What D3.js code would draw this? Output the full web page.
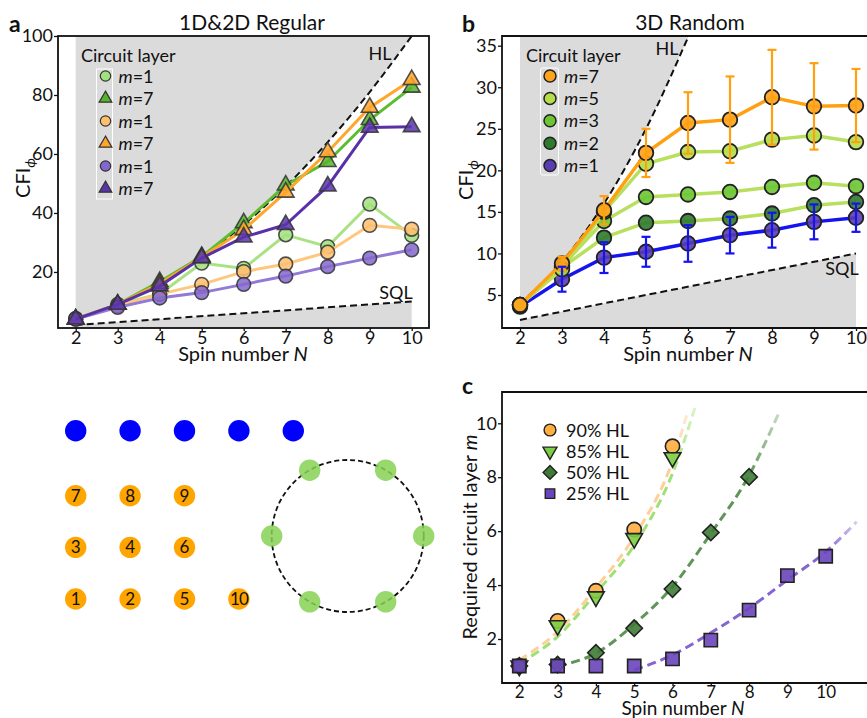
<!DOCTYPE html>
<html><head><meta charset="utf-8">
<script src="https://cdn.jsdelivr.net/npm/d3@7"></script>
<style>body{margin:0;background:#fff}svg{display:block}text{font-family:Lato,"Open Sans",sans-serif;fill:#111}</style>
</head><body><svg id="c" width="867" height="718"></svg>
<script>
// ---------- DATA ----------
const spinN = [2,3,4,5,6,7,8,9,10];
const xTicks = [2,3,4,5,6,7,8,9,10];
// Panel a (1D&2D Regular)
const aGreenM1  = [4.2, 9.0, 12.5, 23.0, 21.2, 32.6, 28.6, 43.0, 32.4];
const aGreenM7  = [4.0, 9.0, 16.7, 25.2, 36.6, 49.4, 57.4, 71.6, 82.6];
const aOrangeM1 = [4.0, 8.5, 12.5, 15.8, 20.1, 22.7, 26.7, 35.8, 34.5];
const aOrangeM7 = [4.0, 9.0, 16.0, 25.0, 34.3, 47.0, 60.7, 75.8, 85.2];
const aPurpleM1 = [4.0, 8.0, 11.2, 13.0, 15.8, 18.6, 21.8, 24.7, 27.5];
const aPurpleM7 = [4.0, 9.0, 15.2, 24.7, 31.8, 36.0, 49.1, 69.0, 69.2];
const aYTicks = [20,40,60,80,100];
const hlN = [2,3,4,5,6,7,8,9,10];
const hlVal = [4,9,16,25,36,49,64,81,100];
const sqlN = [2,10];
const sqlVal = [2,10];
// Panel b (3D Random)
const bM7 = [3.8, 8.8, 15.2, 22.1, 25.7, 26.1, 28.8, 27.7, 27.8];
const bM7Err = [0, 0.8, 1.7, 2.9, 3.7, 5.2, 5.7, 5.2, 4.4];
const bM5 = [3.8, 8.1, 15.0, 20.8, 22.2, 22.3, 23.7, 24.2, 23.4];
const bM3 = [3.8, 8.5, 13.9, 16.8, 17.1, 17.4, 18.0, 18.5, 18.1];
const bM2 = [3.8, 8.3, 11.9, 13.7, 13.9, 14.2, 14.8, 15.8, 16.2];
const bM1 = [3.6, 6.9, 9.5, 10.2, 11.2, 12.2, 12.8, 13.8, 14.3];
const bM1Err = [0, 1.5, 1.85, 1.8, 2.2, 2.2, 2.1, 2.1, 1.7];
const bYTicks = [5,10,15,20,25,30,35];
const bHlN = [2,3,4,5,6];
const bHlVal = [4,9,16,25,36];
// Panel c (required circuit layer)
const c90N = [2,3,4,5,6];        const c90M = [1.0, 2.67, 3.79, 6.06, 9.15];
const c85N = [2,3,4,5,6];        const c85M = [1.0, 2.5, 3.57, 5.73, 8.73];
const c50N = [2,3,4,5,6,7,8];    const c50M = [1.0, 1.05, 1.49, 2.4, 3.85, 5.95, 8.01];
const c25N = [2,3,4,5,6,7,8,9,10]; const c25M = [1.0, 1.0, 1.0, 1.0, 1.26, 1.96, 3.07, 4.35, 5.07];
const fit90N = [2, 3, 4, 5, 6, 6.41];        const fit90M = [1.22, 2.27, 3.9, 5.8, 8.6, 10.48];
const fit85N = [2, 3, 4, 5, 6, 6.61];        const fit85M = [1.1, 2.09, 3.7, 5.48, 8.14, 10.67];
const fit50N = [3, 4, 5, 6, 7, 8, 8.79];     const fit50M = [1.0, 1.47, 2.55, 3.94, 5.91, 8.07, 10.42];
const fit25N = [5, 6, 7, 8, 9, 10, 10.81];   const fit25M = [0.85, 1.41, 2.23, 3.14, 4.19, 5.23, 6.35];
const cYTicks = [2,4,6,8,10];
// Lattice illustration
const chainCols = [0,1,2,3,4];
const gridLabels = ["7","8","9","3","4","6","1","2","5","10"];
const gridCols = [0,1,2,0,1,2,0,1,2,3];
const gridRows = [0,0,0,1,1,1,2,2,2,2];
const ringAngles = [0,60,120,180,240,300];

// ---------- DRAW ----------
const svg = d3.select("#c");
const defs = svg.append("defs");
const GRAY = "#dcdbdc";
const FONT = "Lato";

function clip(id, x0, y0, x1, y1) {
  defs.append("clipPath").attr("id", id).append("rect")
    .attr("x", x0).attr("y", y0).attr("width", x1 - x0).attr("height", y1 - y0);
  return "url(#" + id + ")";
}
function axes(g, x, y, yTicks, frame, fs) {
  const ya = g.append("g").attr("transform", `translate(${frame.x0},0)`)
    .call(d3.axisLeft(y).tickValues(yTicks).tickSize(4).tickPadding(1));
  const xa = g.append("g").attr("transform", `translate(0,${frame.y1})`)
    .call(d3.axisBottom(x).tickValues(xTicks).tickSize(3).tickPadding(0));
  [ya, xa].forEach(a => {
    a.select(".domain").remove();
    a.selectAll("line").attr("stroke", "#111").attr("stroke-width", 1.3);
    a.selectAll("text").attr("font-size", 18).attr("fill", "#111").attr("font-family", FONT);
  });
  if (fs) xa.selectAll("text").attr("font-size", fs);
}
function frameBox(g, f) {
  g.append("rect").attr("x", f.x0).attr("y", f.y0)
    .attr("width", f.x1 - f.x0).attr("height", f.y1 - f.y0)
    .attr("fill", "none").attr("stroke", "#111").attr("stroke-width", 1.8);
}
function spinLabel(g, cx, yb, fs) {
  const t = g.append("text").attr("x", cx).attr("y", yb).attr("text-anchor", "middle").attr("font-size", fs || 20);
  t.append("tspan").text("Spin number ");
  t.append("tspan").attr("font-style", "italic").text("N");
}
function cfiLabel(g, cx, cy) {
  const t = g.append("text").attr("transform", `translate(${cx},${cy}) rotate(-90)`)
    .attr("text-anchor", "middle").attr("font-size", 20);
  t.append("tspan").text("CFI");
  t.append("tspan").attr("font-size", 14).attr("font-style", "italic").attr("dy", 5).text("ϕ");
}
function legendItem(g, x, y, sym, fill, label, num) {
  g.append("path").attr("d", sym).attr("transform", `translate(${x},${y})`)
    .attr("fill", fill).attr("stroke", "#333").attr("stroke-width", 1.2);
  const t = g.append("text").attr("x", x + 13).attr("y", y + 6.5).attr("font-size", 18);
  t.append("tspan").attr("font-style", "italic").text(label);
  t.append("tspan").text("=" + num);
}
const circleSym = d3.symbol().type(d3.symbolCircle).size(150)();
const triSym = d3.symbol().type(d3.symbolTriangle).size(120)();
const legCirc = d3.symbol().type(d3.symbolCircle).size(85)();
const legTri = d3.symbol().type(d3.symbolTriangle).size(70)();

// ===== Panel a =====
(function(){
  const f = {x0: 58, x1: 429, y0: 36, y1: 328};
  const x = d3.scaleLinear().domain([2,10]).range([75.7, 411.7]);
  const y = d3.scaleLinear().domain([1,100]).range([328, 36]);
  const g = svg.append("g");
  const cp = clip("clipA", f.x0, f.y0, f.x1, f.y1);
  const pg = g.append("g").attr("clip-path", cp);
  const hlLine = d3.line().x((d,i)=>x(hlN[i])).y(d=>y(d)).curve(d3.curveMonotoneX);
  const hlPath = hlLine(hlVal);
  pg.append("path").attr("d", hlPath + ` L${x(10)},${f.y0} L${x(2)},${f.y0} Z`).attr("fill", GRAY);
  pg.append("path").attr("d", `M${x(sqlN[0])},${y(sqlVal[0])} L${x(sqlN[1])},${y(sqlVal[1])} L${x(10)},${f.y1} L${x(2)},${f.y1} Z`).attr("fill", GRAY);
  pg.append("path").attr("d", hlPath).attr("fill","none").attr("stroke","#111").attr("stroke-width",2).attr("stroke-dasharray","7,4");
  pg.append("path").attr("d", `M${x(sqlN[0])},${y(sqlVal[0])} L${x(sqlN[1])},${y(sqlVal[1])}`).attr("fill","none").attr("stroke","#111").attr("stroke-width",2).attr("stroke-dasharray","7,4");
  g.append("text").attr("x", 380).attr("y", 60).attr("text-anchor","middle").attr("font-size",18).text("HL");
  g.append("text").attr("x", 396).attr("y", 299).attr("text-anchor","middle").attr("font-size",18).text("SQL");
  const series = [
    {v: aGreenM1, line: "#a9e283", mk: "#a2e07f", sym: circleSym},
    {v: aGreenM7, line: "#5dbc2f", mk: "#55b52a", sym: triSym},
    {v: aOrangeM1, line: "#ffc77e", mk: "#ffc06e", sym: circleSym},
    {v: aOrangeM7, line: "#ffa62d", mk: "#ffa52a", sym: triSym},
    {v: aPurpleM1, line: "#9279d6", mk: "#8467cc", sym: circleSym},
    {v: aPurpleM7, line: "#5a30a8", mk: "#5a35aa", sym: triSym},
  ];
  const ln = d3.line().x((d,i)=>x(spinN[i])).y(d=>y(d));
  series.forEach(s => {
    pg.append("path").attr("d", ln(s.v)).attr("fill","none").attr("stroke", s.line).attr("stroke-width", 3);
    pg.selectAll(null).data(s.v).join("path").attr("d", s.sym)
      .attr("transform", (d,i)=>`translate(${x(spinN[i])},${y(d)})`)
      .attr("fill", s.mk).attr("fill-opacity", 0.85).attr("stroke", "#333").attr("stroke-opacity",0.85).attr("stroke-width", 1.6);
  });
  axes(g, x, y, aYTicks, f);
  frameBox(g, f);
  g.append("text").attr("x", 81).attr("y", 62).attr("font-size", 18).text("Circuit layer");
  g.append("rect").attr("x", 96.5).attr("y", 69).attr("width", 16).attr("height", 130).attr("fill","none").attr("stroke","#fff").attr("stroke-width",1);
  const leg = [[legCirc,"#a2e07f"],[legTri,"#55b52a"],[legCirc,"#ffc06e"],[legTri,"#ffa52a"],[legCirc,"#8467cc"],[legTri,"#5a35aa"]];
  const legNums = ["1","7","1","7","1","7"];
  leg.forEach((l,i)=> legendItem(g, 105.5, 76 + i*22.5, l[0], l[1], "m", legNums[i]));
  g.append("text").attr("x", 252).attr("y", 30).attr("text-anchor","middle").attr("font-size",21).text("1D&2D Regular");
  g.append("text").attr("x", 9).attr("y", 32).attr("font-size",23).attr("font-weight","bold").text("a");
  cfiLabel(g, 30, 178);
  spinLabel(g, 243, 361);
})();

// ===== Panel b =====
(function(){
  const f = {x0: 502, x1: 869, y0: 36, y1: 328};
  const x = d3.scaleLinear().domain([2,10]).range([520, 856]);
  const y = d3.scaleLinear().domain([5,35]).range([295, 45.7]);
  const g = svg.append("g");
  const cp = clip("clipB", f.x0, f.y0, f.x1, f.y1);
  const pg = g.append("g").attr("clip-path", cp);
  const hl = d3.line().x((d,i)=>x(bHlN[i])).y(d=>y(d)).curve(d3.curveMonotoneX)(bHlVal);
  pg.append("path").attr("d", hl + ` L${x(6)},${f.y0} L${x(2)},${f.y0} Z`).attr("fill", GRAY);
  pg.append("path").attr("d", `M${x(sqlN[0])},${y(sqlVal[0])} L${x(sqlN[1])},${y(sqlVal[1])} L${x(10)},${f.y1} L${x(2)},${f.y1} Z`).attr("fill", GRAY);
  pg.append("path").attr("d", hl).attr("fill","none").attr("stroke","#111").attr("stroke-width",2).attr("stroke-dasharray","7,4");
  pg.append("path").attr("d", `M${x(sqlN[0])},${y(sqlVal[0])} L${x(sqlN[1])},${y(sqlVal[1])}`).attr("fill","none").attr("stroke","#111").attr("stroke-width",2).attr("stroke-dasharray","7,4");
  g.append("text").attr("x", 667).attr("y", 55).attr("text-anchor","middle").attr("font-size",18).text("HL");
  g.append("text").attr("x", 842).attr("y", 275).attr("text-anchor","middle").attr("font-size",18).text("SQL");
  const series = [
    {v: bM1, line: "#1414ee", mk: "#5a3db3"},
    {v: bM2, line: "#b8e05e", mk: "#2f7a2f"},
    {v: bM3, line: "#b8e05e", mk: "#6cc634"},
    {v: bM5, line: "#b8e05e", mk: "#b4de4a"},
    {v: bM7, line: "#ffa010", mk: "#ffa21c"},
  ];
  const ln = d3.line().x((d,i)=>x(spinN[i])).y(d=>y(d));
  series.forEach(s => {
    pg.append("path").attr("d", ln(s.v)).attr("fill","none").attr("stroke", s.line).attr("stroke-width", 3.5);
    pg.selectAll(null).data(s.v).join("circle")
      .attr("cx", (d,i)=>x(spinN[i])).attr("cy", d=>y(d)).attr("r", 7.3)
      .attr("fill", s.mk).attr("fill-opacity", 0.9).attr("stroke", "#222").attr("stroke-width", 1.8);
  });
  function errBars(vals, errs, color) {
    vals.forEach((v,i)=>{
      if (!errs[i]) return;
      const cx = x(spinN[i]), t = y(v+errs[i]), b = y(v-errs[i]);
      pg.append("line").attr("x1",cx).attr("x2",cx).attr("y1",t).attr("y2",b).attr("stroke",color).attr("stroke-width",2.2);
      [t,b].forEach(yy => pg.append("line").attr("x1",cx-4.5).attr("x2",cx+4.5).attr("y1",yy).attr("y2",yy).attr("stroke",color).attr("stroke-width",2.2));
    });
  }
  errBars(bM7, bM7Err, "#ffa010");
  errBars(bM1, bM1Err, "#1414ee");
  axes(g, x, y, bYTicks, f);
  g.append("path").attr("d", `M${f.x1},${f.y0} L${f.x0},${f.y0} L${f.x0},${f.y1} L${f.x1},${f.y1}`)
    .attr("fill","none").attr("stroke","#111").attr("stroke-width",1.8);
  g.append("text").attr("x", 526).attr("y", 62).attr("font-size", 18).text("Circuit layer");
  g.append("rect").attr("x", 540.5).attr("y", 68).attr("width", 18).attr("height", 107).attr("rx",2).attr("fill","none").attr("stroke","#fff").attr("stroke-width",1);
  const legCols = ["#ffa21c","#b4de4a","#6cc634","#2f7a2f","#5a3db3"];
  const legNums = ["7","5","3","2","1"];
  legCols.forEach((c,i)=>{
    g.append("circle").attr("cx", 550).attr("cy", 76 + i*22.4).attr("r", 6).attr("fill", c).attr("stroke","#222").attr("stroke-width",1.5);
    const t = g.append("text").attr("x", 564).attr("y", 82.5 + i*22.4).attr("font-size", 18);
    t.append("tspan").attr("font-style","italic").text("m");
    t.append("tspan").text("=" + legNums[i]);
  });
  g.append("text").attr("x", 690).attr("y", 30).attr("text-anchor","middle").attr("font-size",21).text("3D Random");
  g.append("text").attr("x", 462).attr("y", 32).attr("font-size",23).attr("font-weight","bold").text("b");
  cfiLabel(g, 473, 180);
  spinLabel(g, 688, 361);
})();

// ===== Panel c =====
(function(){
  const f = {x0: 502, x1: 869, y0: 392, y1: 683};
  const x = d3.scaleLinear().domain([2,10]).range([519.3, 825.7]);
  const y = d3.scaleLinear().domain([2,10]).range([639, 423.3]);
  const g = svg.append("g");
  const cp = clip("clipC", f.x0, f.y0, f.x1, f.y1);
  const pg = g.append("g").attr("clip-path", cp);
  const fits = [
    {n: fit90N, m: fit90M, c: "#ffbf78", last: 6, a0: 0.75},
    {n: fit85N, m: fit85M, c: "#8fda5c", last: 6, a0: 0.85},
    {n: fit50N, m: fit50M, c: "#4d8a44", last: 8, a0: 0.9},
    {n: fit25N, m: fit25M, c: "#7654cc", last: 10, a0: 0.9},
  ];
  fits.forEach((ft,k)=>{
    const n0 = ft.n[0], n1 = ft.n[ft.n.length-1];
    const gid = "fade" + k;
    const gr = defs.append("linearGradient").attr("id", gid).attr("gradientUnits","userSpaceOnUse")
      .attr("x1", x(n0)).attr("x2", x(n1)).attr("y1", 0).attr("y2", 0);
    gr.append("stop").attr("offset", 0).attr("stop-color", ft.c).attr("stop-opacity", ft.a0);
    gr.append("stop").attr("offset", (ft.last-n0)/(n1-n0)).attr("stop-color", ft.c).attr("stop-opacity", ft.a0);
    gr.append("stop").attr("offset", 1).attr("stop-color", ft.c).attr("stop-opacity", 0.3);
    const ln = d3.line().x((d,i)=>x(ft.n[i])).y(d=>y(d)).curve(d3.curveMonotoneX);
    pg.append("path").attr("d", ln(ft.m)).attr("fill","none").attr("stroke", `url(#${gid})`)
      .attr("stroke-width", 3).attr("stroke-dasharray", "9,5");
  });
  const sq = d3.symbol().type(d3.symbolSquare).size(175)();
  const dia = d3.symbol().type(d3.symbolSquare).size(135)();
  const tri = d3.symbol().type(d3.symbolTriangle).size(120)();
  const circ = d3.symbol().type(d3.symbolCircle).size(160)();
  const sets = [
    {n: c90N, m: c90M, sym: circ, rot: 0, fill: "#ffae3f"},
    {n: c85N, m: c85M, sym: tri, rot: 180, fill: "#7ccf45"},
    {n: c50N, m: c50M, sym: dia, rot: 45, fill: "#3e7c36"},
    {n: c25N, m: c25M, sym: sq, rot: 0, fill: "#6a45bd"},
  ];
  sets.forEach(s=>{
    pg.selectAll(null).data(s.m).join("path").attr("d", s.sym)
      .attr("transform",(d,i)=>`translate(${x(s.n[i])},${y(d)}) rotate(${s.rot})`)
      .attr("fill", s.fill).attr("fill-opacity", 0.9).attr("stroke","#222").attr("stroke-width",1.6);
  });
  axes(g, x, y, cYTicks, f, 17);
  g.append("path").attr("d", `M${f.x1},${f.y0} L${f.x0},${f.y0} L${f.x0},${f.y1} L${f.x1},${f.y1}`)
    .attr("fill","none").attr("stroke","#111").attr("stroke-width",1.8);
  const legSyms = [[d3.symbol().type(d3.symbolCircle).size(110)(),0,"#ffae3f"],
                   [d3.symbol().type(d3.symbolTriangle).size(85)(),180,"#7ccf45"],
                   [d3.symbol().type(d3.symbolSquare).size(95)(),45,"#3e7c36"],
                   [d3.symbol().type(d3.symbolSquare).size(90)(),0,"#6a45bd"]];
  const legLabels = ["90% HL","85% HL","50% HL","25% HL"];
  legSyms.forEach((l,i)=>{
    const yy = 430 + i*21.2;
    g.append("path").attr("d", l[0]).attr("transform", `translate(550,${yy}) rotate(${l[1]})`)
      .attr("fill", l[2]).attr("stroke","#222").attr("stroke-width",1.4);
    g.append("text").attr("x", 566).attr("y", yy + 6.5).attr("font-size", 18).text(legLabels[i]);
  });
  g.append("text").attr("x", 462).attr("y", 394).attr("font-size",23).attr("font-weight","bold").text("c");
  const t = g.append("text").attr("transform", "translate(477,537) rotate(-90)").attr("text-anchor","middle").attr("font-size",20);
  t.append("tspan").text("Required circuit layer ");
  t.append("tspan").attr("font-style","italic").text("m");
  spinLabel(g, 683, 715, 19);
})();

// ===== Lattice illustrations =====
(function(){
  const g = svg.append("g");
  const col = d3.scaleLinear().domain([0,4]).range([75.7, 293.3]);
  const row = d3.scaleLinear().domain([0,2]).range([495.7, 599]);
  g.selectAll(null).data(chainCols).join("circle")
    .attr("cx", d=>col(d)).attr("cy", 430.7).attr("r", 10.7).attr("fill", "#0000ff");
  gridLabels.forEach((lab,i)=>{
    g.append("circle").attr("cx", col(gridCols[i])).attr("cy", row(gridRows[i])).attr("r", 10.7).attr("fill", "#ffa500");
    g.append("text").attr("x", col(gridCols[i])).attr("y", row(gridRows[i]) + 6).attr("text-anchor","middle")
      .attr("font-size", 17).attr("letter-spacing", lab.length > 1 ? -1 : 0).text(lab);
  });
  const cx = 347.7, cy = 536, R = 76;
  g.append("circle").attr("cx", cx).attr("cy", cy).attr("r", R).attr("fill","none")
    .attr("stroke","#111").attr("stroke-width",1.8).attr("stroke-dasharray","5,3");
  g.selectAll(null).data(ringAngles).join("circle")
    .attr("cx", a=>cx + R*Math.cos(a*Math.PI/180)).attr("cy", a=>cy - R*Math.sin(a*Math.PI/180))
    .attr("r", 10.7).attr("fill", "#86d152").attr("fill-opacity", 0.85);
})();
</script></body></html>
